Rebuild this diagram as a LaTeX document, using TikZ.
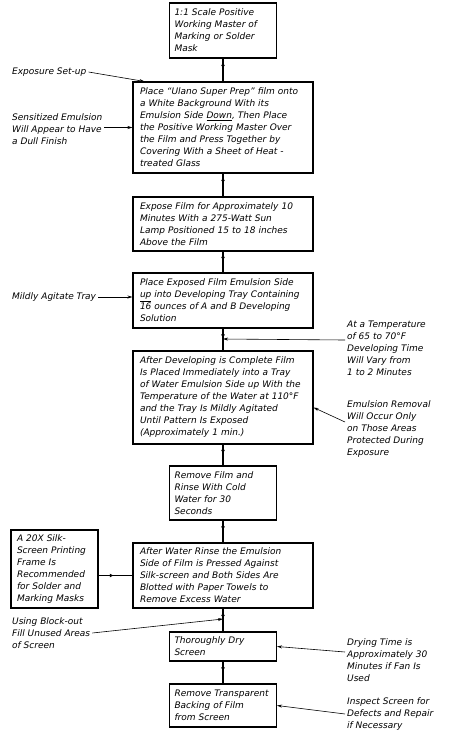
\documentclass[tikz,border=0pt]{standalone}
\usepackage{fontspec}
\setmainfont{DejaVu Sans}
\usetikzlibrary{arrows.meta,decorations.markings}
\begin{document}
\begin{tikzpicture}[x=1pt, y=-1pt,
  every node/.style={font=\fontsize{9}{12}\selectfont\itshape},
  stepbox/.style={draw, line width=1.1pt, align=left, inner xsep=7pt, text width=166pt, minimum height=#1},
  smallbox/.style={stepbox=#1, inner xsep=5pt, text width=97pt},
  notetext/.style={align=left, inner sep=2pt},
  flowline/.style={line width=1.1pt, postaction={decorate},
    decoration={markings, mark=at position 0.45 with {\arrow{Latex[length=4pt,width=4pt]}}}},
  notearrow/.style={line width=0.6pt, -{Stealth[length=5pt,width=3pt]}}]
  \useasboundingbox (0,0) rectangle (450,740);

  \node[smallbox=55pt] (b1) at (223,30.5) {1:1 Scale Positive\\Working Master of\\Marking or Solder\\Mask};
  \node[stepbox=91pt] (b2) at (223,127.5) {Place “Ulano Super Prep” film onto\\a White Background With its\\Emulsion Side \underline{Down}, Then Place\\the Positive Working Master Over\\the Film and Press Together by\\Covering With a Sheet of Heat -\\treated Glass};
  \node[stepbox=54pt] (b3) at (223,224) {Expose Film for Approximately 10\\Minutes With a 275-Watt Sun\\Lamp Positioned 15 to 18 inches\\Above the Film};
  \node[stepbox=55pt] (b4) at (223,300.5) {Place Exposed Film Emulsion Side\\\underline{up} into Developing Tray Containing\\16 ounces of A and B Developing\\Solution};
  \node[stepbox=93pt] (b5) at (223,397.5) {After Developing is Complete Film\\Is Placed Immediately into a Tray\\of Water Emulsion Side up With the\\Temperature of the Water at 110°F\\and the Tray Is Mildly Agitated\\Until Pattern Is Exposed\\(Approximately 1 min.)};
  \node[smallbox=54pt] (b6) at (223,493) {Remove Film and\\Rinse With Cold\\Water for 30\\Seconds};
  \node[stepbox=65pt] (b7) at (223,575.5) {After Water Rinse the Emulsion\\Side of Film is Pressed Against\\Silk-screen and Both Sides Are\\Blotted with Paper Towels to\\Remove Excess Water};
  \node[smallbox=29pt] (b8) at (223,646.5) {Thoroughly Dry\\Screen};
  \node[smallbox=43pt] (b9) at (223,705.5) {Remove Transparent\\Backing of Film\\from Screen};
  \node[stepbox=78pt, inner xsep=6pt, text width=75pt] (frame) at (54.5,569) {A 20X Silk-\\Screen Printing\\Frame Is\\Recommended\\for Solder and\\Marking Masks};

  \node[notetext, anchor=west] (setup) at (10,72) {Exposure Set-up};
  \node[notetext, anchor=west] (dull) at (10,129) {Sensitized Emulsion\\Will Appear to Have\\a Dull Finish};
  \node[notetext, anchor=west] (agitate) at (10,297) {Mildly Agitate Tray};
  \node[notetext, anchor=west] (temp) at (345,348) {At a Temperature\\of 65 to 70°F\\Developing Time\\Will Vary from\\1 to 2 Minutes};
  \node[notetext, anchor=west] (removal) at (345,429) {Emulsion Removal\\Will Occur Only\\on Those Areas\\Protected During\\Exposure};
  \node[notetext, anchor=west] (blockout) at (10,633) {Using Block-out\\Fill Unused Areas\\of Screen};
  \node[notetext, anchor=west] (drying) at (345,660) {Drying Time is\\Approximately 30\\Minutes if Fan Is\\Used};
  \node[notetext, anchor=west] (inspect) at (345,714) {Inspect Screen for\\Defects and Repair\\if Necessary};

  \coordinate (devline) at (223,339);
  \coordinate (dryline) at (223,619);

  \foreach \a/\b in {b1/b2,b2/b3,b3/b4,b4/b5,b5/b6,b6/b7,b7/b8,b8/b9}
    \draw[flowline] (\a.south) -- (\b.north);
  \draw[flowline] (frame.east |- b7.west) -- (b7.west);

  \draw[notearrow] (setup.east) -- ([xshift=12pt]b2.north west);
  \draw[notearrow] (dull.east |- b2.west) -- (b2.west);
  \draw[notearrow] (agitate.east) -- (agitate.east -| b4.west);
  \draw[notearrow] ([yshift=8pt]temp.west) -- (devline);
  \draw[notearrow] ([yshift=7pt]removal.west) -- ([yshift=-10pt]b5.east);
  \draw[notearrow] (blockout.east) -- (dryline);
  \draw[notearrow] ([yshift=8pt]drying.west) -- (b8.east);
  \draw[notearrow] (inspect.west) -- (b9.east);
\end{tikzpicture}
\end{document}
